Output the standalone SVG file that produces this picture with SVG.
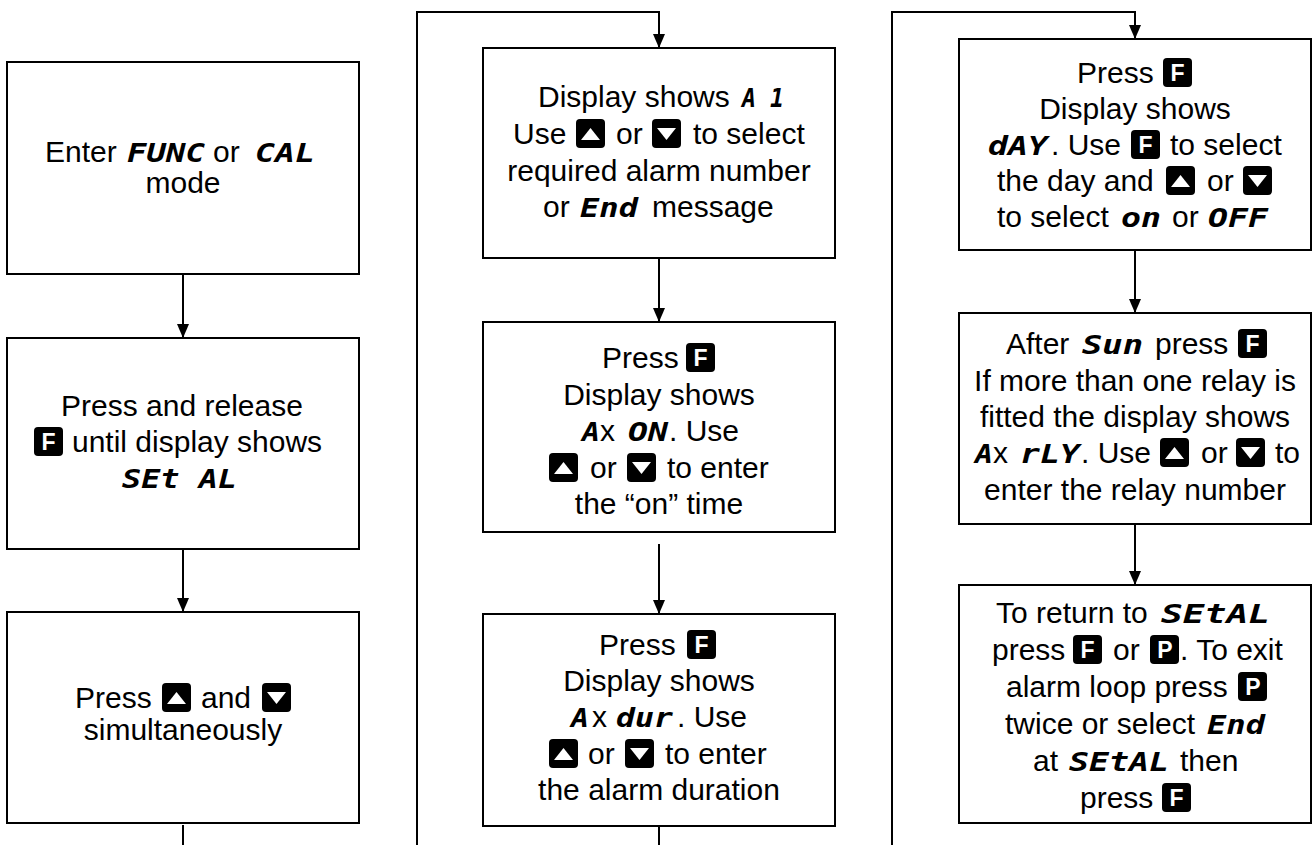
<svg xmlns="http://www.w3.org/2000/svg" xmlns:xlink="http://www.w3.org/1999/xlink" width="1313" height="845" viewBox="0 0 1313 845">
<style>
.box{fill:#fff;stroke:#000;stroke-width:2}
.ln{fill:none;stroke:#000;stroke-width:2}
.t{font-family:"Liberation Sans",Arial,sans-serif;font-size:30px;fill:#000}
.m{text-anchor:middle}
.s{font-family:"DejaVu Sans Mono","Liberation Mono",monospace;font-weight:bold;font-style:oblique;font-size:26px;fill:#000}
.bk{font-family:"Liberation Sans",Arial,sans-serif;font-weight:bold;font-size:23px;fill:#fff;text-anchor:middle}
</style>
<defs>
<marker id="ah" markerUnits="userSpaceOnUse" markerWidth="14" markerHeight="12" viewBox="0 0 14 12" refX="14" refY="6" orient="auto">
<path d="M0,0 L14,6 L0,12 z" fill="#000"/>
</marker>
<g id="bF"><rect width="29" height="29" rx="4" fill="#000"/><text class="bk" x="14.5" y="23">F</text></g>
<g id="bP"><rect width="29" height="29" rx="4" fill="#000"/><text class="bk" x="15" y="23">P</text></g>
<g id="bU"><rect width="29" height="29" rx="4" fill="#000"/><polygon points="5,21 24,21 14.5,9" fill="#fff"/></g>
<g id="bD"><rect width="29" height="29" rx="4" fill="#000"/><polygon points="5,9 24,9 14.5,21" fill="#fff"/></g>
</defs>

<g id="connectors">
<path class="ln" d="M183,274 V338" marker-end="url(#ah)"/>
<path class="ln" d="M183,549 V612" marker-end="url(#ah)"/>
<path class="ln" d="M183,825 V845"/>
<path class="ln" d="M417,845 V12 H659 V48" marker-end="url(#ah)"/>
<path class="ln" d="M659,258 V322" marker-end="url(#ah)"/>
<path class="ln" d="M659,544 V614" marker-end="url(#ah)"/>
<path class="ln" d="M659,826 V845"/>
<path class="ln" d="M892,845 V12 H1135 V39" marker-end="url(#ah)"/>
<path class="ln" d="M1135,250 V313" marker-end="url(#ah)"/>
<path class="ln" d="M1135,524 V585" marker-end="url(#ah)"/>
</g>

<g id="n1">
<rect class="box" x="7" y="62" width="352" height="212"/>
<text class="t" x="45" y="162">Enter</text>
<text class="s" x="127" y="162" textLength="78" lengthAdjust="spacingAndGlyphs">FUNC</text>
<text class="t" x="213" y="162">or</text>
<text class="s" x="255" y="162" textLength="60" lengthAdjust="spacingAndGlyphs">CAL</text>
<text class="t m" x="183" y="193">mode</text>
</g>

<g id="n2">
<rect class="box" x="7" y="338" width="352" height="211"/>
<text class="t m" x="182" y="416">Press and release</text>
<use xlink:href="#bF" x="34" y="427"/>
<text class="t" x="72" y="452">until display shows</text>
<text class="s" x="122" y="488" textLength="115" lengthAdjust="spacingAndGlyphs">SEt AL</text>
</g>

<g id="n3">
<rect class="box" x="7" y="612" width="352" height="211"/>
<text class="t" x="75" y="708">Press</text>
<use xlink:href="#bU" x="162" y="683"/>
<text class="t" x="201" y="708">and</text>
<use xlink:href="#bD" x="262" y="683"/>
<text class="t m" x="183" y="740">simultaneously</text>
</g>

<g id="nA">
<rect class="box" x="483" y="48" width="352" height="210"/>
<text class="t" x="538" y="107">Display shows</text>
<text class="s" x="742" y="107" textLength="42" lengthAdjust="spacingAndGlyphs">A 1</text>
<text class="t" x="513" y="144">Use</text>
<use xlink:href="#bU" x="576" y="119"/>
<text class="t" x="616" y="144">or</text>
<use xlink:href="#bD" x="652" y="119"/>
<text class="t" x="693" y="144">to select</text>
<text class="t m" x="659" y="181">required alarm number</text>
<text class="t" x="543" y="217">or</text>
<text class="s" x="580" y="217" textLength="58" lengthAdjust="spacingAndGlyphs">End</text>
<text class="t" x="652" y="217">message</text>
</g>

<g id="nB">
<rect class="box" x="483" y="322" width="352" height="210"/>
<text class="t" x="602" y="368">Press</text>
<use xlink:href="#bF" x="686" y="343"/>
<text class="t m" x="659" y="405">Display shows</text>
<text class="s" x="582" y="441" textLength="18" lengthAdjust="spacingAndGlyphs">A</text>
<text class="t" x="600" y="441">x</text>
<text class="s" x="628" y="441" textLength="40" lengthAdjust="spacingAndGlyphs">ON</text>
<text class="t" x="669" y="441">. Use</text>
<use xlink:href="#bU" x="549" y="453"/>
<text class="t" x="590" y="478">or</text>
<use xlink:href="#bD" x="627" y="453"/>
<text class="t" x="667" y="478">to enter</text>
<text class="t m" x="659" y="514">the “on” time</text>
</g>

<g id="nC">
<rect class="box" x="483" y="614" width="352" height="212"/>
<text class="t" x="599" y="655">Press</text>
<use xlink:href="#bF" x="687" y="630"/>
<text class="t m" x="659" y="691">Display shows</text>
<text class="s" x="571" y="727" textLength="18" lengthAdjust="spacingAndGlyphs">A</text>
<text class="t" x="592" y="727">x</text>
<text class="s" x="616" y="727" textLength="57" lengthAdjust="spacingAndGlyphs">dur</text>
<text class="t" x="677" y="727">. Use</text>
<use xlink:href="#bU" x="549" y="739"/>
<text class="t" x="588" y="764">or</text>
<use xlink:href="#bD" x="625" y="739"/>
<text class="t" x="665" y="764">to enter</text>
<text class="t m" x="659" y="800">the alarm duration</text>
</g>

<g id="nD">
<rect class="box" x="959" y="39" width="352" height="211"/>
<text class="t" x="1077" y="83">Press</text>
<use xlink:href="#bF" x="1163" y="58"/>
<text class="t m" x="1135" y="119">Display shows</text>
<text class="s" x="988" y="155" textLength="60" lengthAdjust="spacingAndGlyphs">dAY</text>
<text class="t" x="1051" y="155">. Use</text>
<use xlink:href="#bF" x="1131" y="130"/>
<text class="t" x="1170" y="155">to select</text>
<text class="t" x="997" y="191">the day and</text>
<use xlink:href="#bU" x="1166" y="166"/>
<text class="t" x="1207" y="191">or</text>
<use xlink:href="#bD" x="1243" y="166"/>
<text class="t" x="997" y="227">to select</text>
<text class="s" x="1121" y="227" textLength="40" lengthAdjust="spacingAndGlyphs">on</text>
<text class="t" x="1172" y="227">or</text>
<text class="s" x="1208" y="227" textLength="60" lengthAdjust="spacingAndGlyphs">OFF</text>
</g>

<g id="nE">
<rect class="box" x="959" y="313" width="352" height="211"/>
<text class="t" x="1006" y="354">After</text>
<text class="s" x="1082" y="354" textLength="61" lengthAdjust="spacingAndGlyphs">Sun</text>
<text class="t" x="1155" y="354">press</text>
<use xlink:href="#bF" x="1238" y="329"/>
<text class="t m" x="1135" y="391">If more than one relay is</text>
<text class="t m" x="1135" y="427">fitted the display shows</text>
<text class="s" x="975" y="463" textLength="18" lengthAdjust="spacingAndGlyphs">A</text>
<text class="t" x="993" y="463">x</text>
<text class="s" x="1020" y="463" textLength="60" lengthAdjust="spacingAndGlyphs">rLY</text>
<text class="t" x="1081" y="463">. Use</text>
<use xlink:href="#bU" x="1160" y="438"/>
<text class="t" x="1201" y="463">or</text>
<use xlink:href="#bD" x="1236" y="438"/>
<text class="t" x="1275" y="463">to</text>
<text class="t m" x="1135" y="500">enter the relay number</text>
</g>

<g id="nF">
<rect class="box" x="959" y="585" width="352" height="238"/>
<text class="t" x="996" y="623">To return to</text>
<text class="s" x="1161" y="623" textLength="109" lengthAdjust="spacingAndGlyphs">SEtAL</text>
<text class="t" x="992" y="660">press</text>
<use xlink:href="#bF" x="1073" y="635"/>
<text class="t" x="1113" y="660">or</text>
<use xlink:href="#bP" x="1150" y="635"/>
<text class="t" x="1180" y="660">. To exit</text>
<text class="t" x="1006" y="697">alarm loop press</text>
<use xlink:href="#bP" x="1238" y="672"/>
<text class="t" x="1005" y="734">twice or select</text>
<text class="s" x="1207" y="734" textLength="58" lengthAdjust="spacingAndGlyphs">End</text>
<text class="t" x="1033" y="771">at</text>
<text class="s" x="1069" y="771" textLength="100" lengthAdjust="spacingAndGlyphs">SEtAL</text>
<text class="t" x="1180" y="771">then</text>
<text class="t" x="1080" y="808">press</text>
<use xlink:href="#bF" x="1162" y="783"/>
</g>
</svg>
